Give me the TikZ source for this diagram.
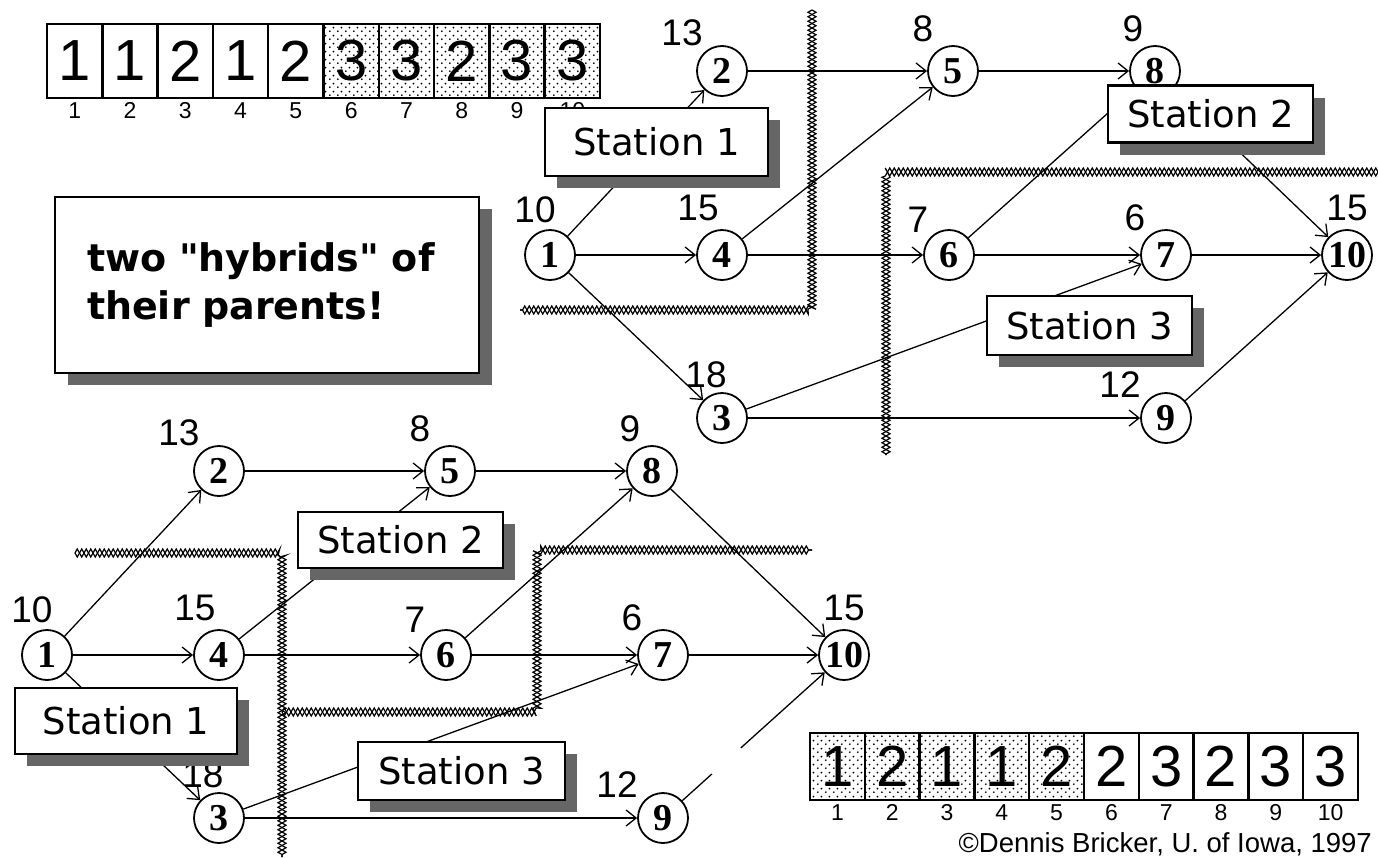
\documentclass[tikz,border=0pt]{standalone}
\usepackage{fontspec}
\newfontfamily\stafont{DejaVu Sans}
\newfontfamily\numfont{Liberation Sans}
\newfontfamily\jobfont{Liberation Serif}
\usetikzlibrary{arrows.meta, shadows, patterns, decorations.pathmorphing, calc}

\pgfdeclarepatternformonly{stipple}{\pgfpointorigin}{\pgfpoint{8pt}{8pt}}{\pgfpoint{8pt}{8pt}}{%
  \pgfpathcircle{\pgfpoint{2pt}{2pt}}{1.1pt}%
  \pgfpathcircle{\pgfpoint{6pt}{6pt}}{1.1pt}%
  \pgfusepath{fill}}

\tikzset{
  job/.style={circle, draw, line width=1.8pt, fill=white, minimum size=50pt, inner sep=0pt, font=\jobfont\bfseries\fontsize{38}{38}\selectfont},
  weight/.style={font=\numfont\fontsize{37}{37}\selectfont},
  edge/.style={line width=1.3pt, -{Straight Barb[length=10pt,width=16pt]}},
  station/.style={draw, line width=2.5pt, fill=white, minimum width=205pt, minimum height=57pt, font=\stafont\fontsize{37}{37}\selectfont, drop shadow={shadow xshift=12pt, shadow yshift=-12pt, opacity=1, fill=black!60}},
  note/.style={draw, line width=2.5pt, fill=white, minimum width=424pt, minimum height=176pt, text width=360pt, align=left, font=\stafont\bfseries\fontsize{38}{48}\selectfont, drop shadow={shadow xshift=13pt, shadow yshift=-12pt, opacity=1, fill=black!60}},
  fence/.style={line width=1.2pt, decorate, decoration={zigzag, amplitude=4pt, segment length=9pt}},
  cell/.style={draw, line width=2.5pt, minimum width=55.3pt, minimum height=74pt, font=\numfont\fontsize{58}{58}\selectfont},
  index/.style={anchor=north, font=\numfont\fontsize{23}{23}\selectfont}
}

% one copy of the precedence network, node names start with #1
\newcommand{\jobnet}[1]{%
  \foreach \k/\px/\py/\w/\lx/\ly in {1/550/255/10/-15/-45, 2/722/71/13/-40/-38, 3/722/418/18/-16/-43,
      4/722/255/15/-24/-47, 5/953/71/8/-30/-42, 6/949/255/7/-31/-35, 7/1166/255/6/-31/-37,
      8/1155/71/9/-22/-42, 9/1166/418/12/-46/-33, 10/1347/255/15/0/-47}
    {\node[job] (#1\k) at (\px,\py) {\k};
     \node[weight] at (\px+\lx,\py+\ly) {\w};}
  \foreach \ja/\jb in {1/2, 1/4, 1/3, 2/5, 4/5, 4/6, 5/8, 6/8, 6/7, 3/7, 3/9, 7/10, 8/10}
    \draw[edge] (#1\ja) -- (#1\jb);
}

\begin{document}
\begin{tikzpicture}[x=1pt, y=-1pt]
  \useasboundingbox (0,0) rectangle (1378,857);

  % first parent
  \foreach \d [count=\i] in {1,1,2,1,2}
    \node[cell] (top\i) at ({47+55.3*(\i-0.5)},61) {\d};
  \foreach \d [count=\i from 6] in {3,3,2,3,3}
    \node[cell, pattern=stipple] (top\i) at ({47+55.3*(\i-0.5)},61) {\d};
  \foreach \i in {1,...,10}
    \node[index] at (top\i.south) {\i};

  % station borders
  \draw[fence] (812,10) -- (812,310) -- (520,310);
  \draw[fence, decoration={mirror}] (812,10) -- (812,310) -- (520,310);
  \draw[fence] (1378,172) -- (886,172) -- (886,455);
  \draw[fence, decoration={mirror}] (1378,172) -- (886,172) -- (886,455);
  \draw[fence] (75,553) -- (282,553) -- (282,857);
  \draw[fence, decoration={mirror}] (75,553) -- (282,553) -- (282,857);
  \draw[fence] (282,712) -- (537,712) -- (537,550) -- (812,550);
  \draw[fence, decoration={mirror}] (282,712) -- (537,712) -- (537,550) -- (812,550);

  \jobnet{t}
  \draw[edge] (t9) -- (t10);
  \begin{scope}[shift={(-503,400)}]
    \jobnet{b}
  \end{scope}
  \draw[line width=1.3pt] (b9) -- ($(b9)!0.27!(b10)$);
  \draw[edge] ($(b9)!0.43!(b10)$) -- (b10);

  \node[station, minimum width=223pt, minimum height=68pt] (st1) at (656.5,142) {Station 1};
  \node[station] (st2) at (1210.5,114) {Station 2};
  \node[station, minimum height=59pt] (st3) at (1089.5,325.5) {Station 3};
  \node[station, minimum width=222pt, minimum height=66pt] (sb1) at (126,721) {Station 1};
  \node[station, minimum height=56pt] (sb2) at (400.5,540) {Station 2};
  \node[station, minimum width=207pt, minimum height=58pt] (sb3) at (461.5,771) {Station 3};

  \node[note] (hybrids) at (267,285) {two "hybrids" of\\their parents!};

  % second parent
  \foreach \d [count=\i] in {1,2,1,1,2}
    \node[cell, minimum width=54.8pt, minimum height=67pt, pattern=stipple] (bot\i) at ({810+54.8*(\i-0.5)},766.5) {\d};
  \foreach \d [count=\i from 6] in {2,3,2,3,3}
    \node[cell, minimum width=54.8pt, minimum height=67pt] (bot\i) at ({810+54.8*(\i-0.5)},766.5) {\d};
  \foreach \i in {1,...,10}
    \node[index] at (bot\i.south) {\i};

  \node[anchor=base east, inner sep=0pt, font=\numfont\fontsize{27.5}{27.5}\selectfont] (copy) at (1372,852) {©Dennis Bricker, U. of Iowa, 1997};
\end{tikzpicture}
\end{document}
